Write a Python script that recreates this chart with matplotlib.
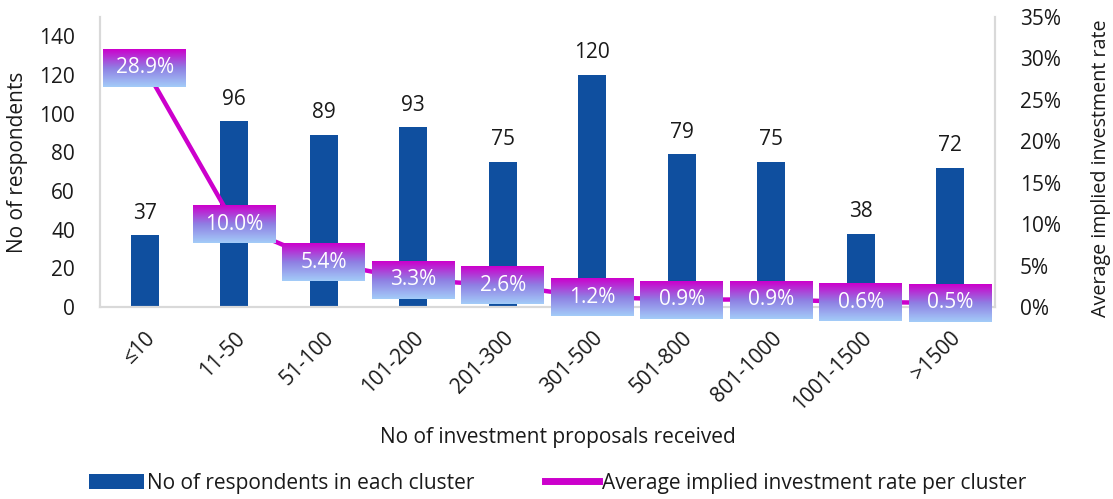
import matplotlib
matplotlib.use("Agg")
import matplotlib.pyplot as plt
import numpy as np
from matplotlib.colors import LinearSegmentedColormap
from matplotlib.patches import Patch
from matplotlib.lines import Line2D

categories = ["≤10", "11-50", "51-100", "101-200", "201-300", "301-500",
              "501-800", "801-1000", "1001-1500", ">1500"]
respondents = [37, 96, 89, 93, 75, 120, 79, 75, 38, 72]
rate_pct = [28.9, 10.0, 5.4, 3.3, 2.6, 1.2, 0.9, 0.9, 0.6, 0.5]
left_ticks = [0, 20, 40, 60, 80, 100, 120, 140]
right_ticks = [0, 5, 10, 15, 20, 25, 30, 35]

plt.rcParams['font.family'] = ['Open Sans', 'DejaVu Sans']
FS = 15

fig = plt.figure(figsize=(11.13, 4.99), dpi=100)
ax = fig.add_axes([100/1113, 1-307/499, 895/1113, 290/499])
ax2 = ax.twinx()

x = np.arange(len(categories))
bar_color = '#0F4F9F'
ax.bar(x, respondents, width=0.31, color=bar_color, zorder=2)
for xi, v in zip(x, respondents):
    ax.text(xi, v + 6, str(v), ha='center', va='bottom', fontsize=FS, color='#1a1a1a')

ax.set_xlim(-0.5, len(categories) - 0.5)
ax.set_ylim(0, 150)
ax.set_yticks(left_ticks)
ax.set_yticklabels([str(t) for t in left_ticks])
ax.set_xticks(x)
ax.set_xticklabels(categories, rotation=45, ha='right', va='top', rotation_mode='anchor')
ax.tick_params(axis='x', length=0, pad=15, labelsize=FS, colors='#1a1a1a')
ax.tick_params(axis='y', length=0, pad=18, labelsize=FS, colors='#1a1a1a')

line_color = '#CC00CC'
ax2.plot(x, rate_pct, color=line_color, lw=3.2, zorder=3, solid_capstyle='butt')
ax2.set_ylim(0, 35)
ax2.set_yticks(right_ticks)
ax2.set_yticklabels([f"{t}%" for t in right_ticks])
ax2.tick_params(axis='y', length=0, pad=18, labelsize=FS, colors='#1a1a1a')

grad = LinearSegmentedColormap.from_list('g', ['#CC00CC', '#8F7FE3', '#A3CBF8'])
img = np.linspace(0, 1, 64).reshape(-1, 1)
bw = 83 / 89.5 / 2
bh = 38 / 290 * 35 / 2
for xi, v in zip(x, rate_pct):
    ax2.imshow(img, cmap=grad, extent=[xi - bw, xi + bw, v - bh, v + bh],
               aspect='auto', origin='upper', zorder=4, clip_on=False,
               interpolation='bilinear')
    ax2.text(xi, v, f"{v:.1f}%", ha='center', va='center', fontsize=FS,
             color='white', zorder=5)
ax2.set_xlim(-0.5, len(categories) - 0.5)
ax2.set_ylim(0, 35)
ax2.set_aspect('auto')

spine_c = '#D9D9D9'
for a in (ax, ax2):
    a.spines['top'].set_visible(False)
    for s in ('left', 'right', 'bottom'):
        a.spines[s].set_color(spine_c)
        a.spines[s].set_linewidth(1.5)

ax.set_ylabel("No of respondents", fontsize=FS, color='#1a1a1a', labelpad=8)
fig.text(1101/1113, 1-168/499, "Average implied investment rate", rotation=90,
         ha='center', va='center', fontsize=14.2, color='#1a1a1a')
fig.text(558/1113, 1-438/499, "No of investment proposals received", ha='center',
         va='center', fontsize=FS, color='#1a1a1a')

handles = [Patch(facecolor=bar_color, edgecolor='none'),
           Line2D([0], [0], color=line_color, lw=5)]
labels = ["No of respondents in each cluster", "Average implied investment rate per cluster"]
fig.legend(handles, labels, loc='center', bbox_to_anchor=(558/1113, 1-483/499),
           ncol=2, frameon=False, fontsize=FS, handlelength=2.6, handletextpad=0.15,
           columnspacing=3.4, labelcolor='#1a1a1a')

fig.savefig("out.png", dpi=100)
